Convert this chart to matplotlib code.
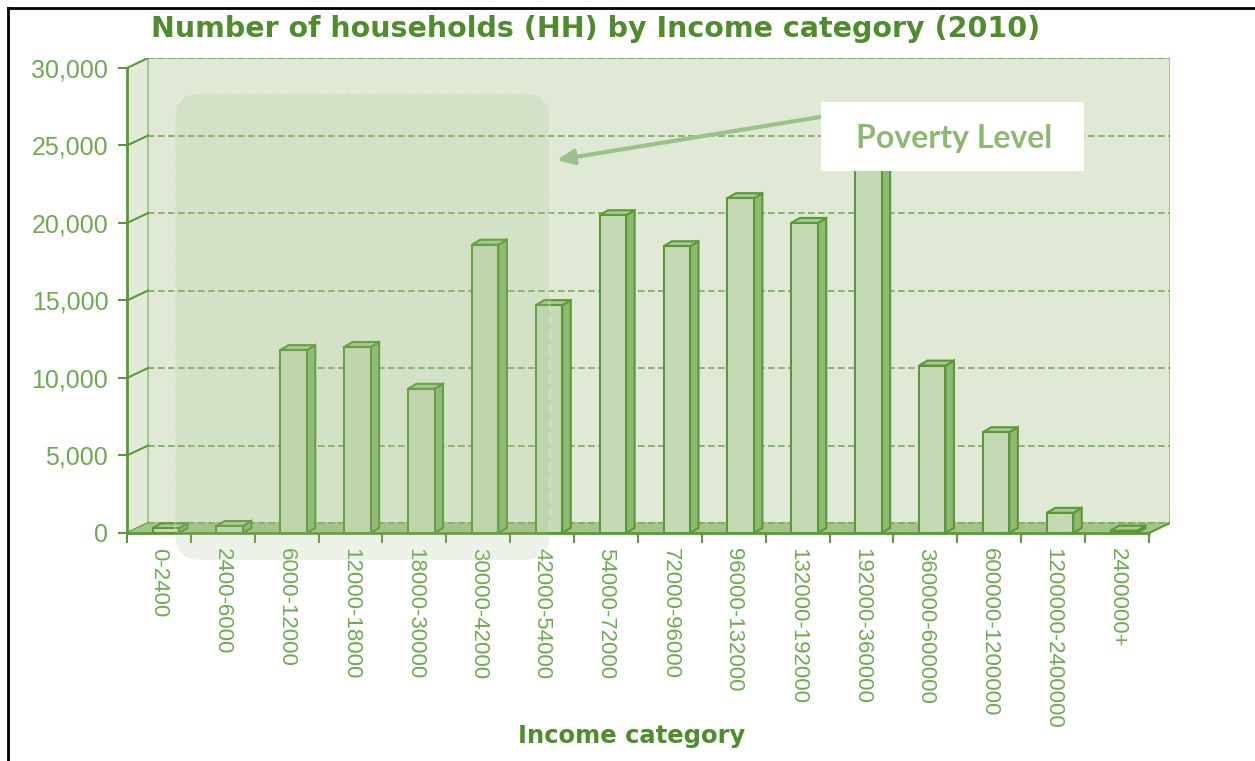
import matplotlib
matplotlib.use("Agg")
import matplotlib.pyplot as plt
from matplotlib.patches import Polygon, Rectangle, FancyBboxPatch
from matplotlib.lines import Line2D

# households per income bracket, 2010
categories = ["0-2400", "2400-6000", "6000-12000", "12000-18000", "18000-30000",
              "30000-42000", "42000-54000", "54000-72000", "72000-96000",
              "96000-132000", "132000-192000", "192000-360000", "360000-600000",
              "600000-1200000", "1200000-2400000", "2400000+"]
households = [300, 450, 11800, 12000, 9300, 18600, 14700, 20500, 18500,
              21600, 20000, 24000, 10800, 6500, 1300, 150]
y_ticks = [0, 5000, 10000, 15000, 20000, 25000, 30000]

TITLE = "#4e8c2c"
TEXT = "#6eaa50"
EDGE = "#5a9a36"
WALL = "#dfe9d5"
SIDEWALL = "#e2ebd9"
FLOOR = "#a3c48a"
GRID = "#7aab5a"
FRONT = "#c6d9b5"
SIDE = "#8fb874"
TOP = "#a9c98f"
ARROW = "#9dc289"

n = len(categories)
ymax = y_ticks[-1]
DX, DY = 0.33, 645        # depth of the chart box
BDX, BDY = 0.133, 323     # depth of each bar
BW = 0.415                # bar front width

fig = plt.figure(figsize=(12.55, 7.61), dpi=100)
ax = fig.add_axes([127 / 1255, 228 / 761, 1043 / 1255, 475 / 761])
ax.set_xlim(-0.5, n - 0.5 + DX)
ax.set_ylim(0, ymax + DY)
for s in ax.spines.values():
    s.set_visible(False)
ax.patch.set_visible(False)

# back wall, grid, side wall, floor
ax.add_patch(Rectangle((-0.5 + DX, DY), n, ymax, fc=WALL, ec="#a9c893", lw=1.5, zorder=0))
for v in y_ticks:
    ax.plot([-0.5 + DX, n - 0.5 + DX], [v + DY] * 2, ls=(0, (4, 2)), color=GRID, lw=1.2, zorder=1)
ax.add_patch(Polygon([(-0.5, 0), (-0.5 + DX, DY), (-0.5 + DX, ymax + DY), (-0.5, ymax)],
                     closed=True, fc=SIDEWALL, ec="none", zorder=1))
ax.plot([-0.5 + DX, -0.5 + DX], [DY, ymax + DY], color="#a9c893", lw=1.5, zorder=1)
for v in y_ticks:
    ax.plot([-0.5, -0.5 + DX], [v, v + DY], color=EDGE, lw=1.5, zorder=2)
ax.add_patch(Polygon([(-0.5, 0), (n - 0.5, 0), (n - 0.5 + DX, DY), (-0.5 + DX, DY)],
                     closed=True, fc=FLOOR, ec="none", zorder=2))
ax.plot([-0.5 + DX, n - 0.5 + DX], [DY, DY], ls=(0, (4, 2)), color="#7fae60", lw=1.2, zorder=2)
ax.plot([n - 0.5, n - 0.5 + DX], [0, DY], color=EDGE, lw=1.5, zorder=2)

# 3d bars
for i, v in enumerate(households):
    left = i - 0.1
    right = left + BW
    ax.add_patch(Polygon([(right, 0), (right + BDX, BDY), (right + BDX, v + BDY), (right, v)],
                         closed=True, fc=SIDE, ec=EDGE, lw=1.5, zorder=3))
    ax.add_patch(Polygon([(left, v), (right, v), (right + BDX, v + BDY), (left + BDX, v + BDY)],
                         closed=True, fc=TOP, ec=EDGE, lw=1.5, zorder=3))
    ax.add_patch(Rectangle((left, 0), BW, v, fc=FRONT, ec=EDGE, lw=1.5, zorder=4))

# front axis lines
ax.plot([-0.5, -0.5], [0, ymax], color=EDGE, lw=2, zorder=5, clip_on=False)
ax.plot([-0.5, n - 0.5], [0, 0], color=EDGE, lw=2, zorder=5, clip_on=False)

ax.set_yticks(y_ticks)
ax.set_yticklabels([f"{v:,}" for v in y_ticks])
ax.tick_params(axis="y", length=6.5, width=1.5, color=EDGE, pad=7,
               labelsize=18, labelcolor=TEXT)
for lab in ax.get_yticklabels():
    lab.set_family("Liberation Sans")

ax.set_xticks([i - 0.5 for i in range(n + 1)])
ax.set_xticklabels([])
ax.set_xticks(range(n), minor=True)
ax.set_xticklabels(categories, minor=True, rotation=270)
ax.tick_params(axis="x", which="major", length=7, width=1.5, color=EDGE)
ax.tick_params(axis="x", which="minor", length=0, pad=11, labelsize=16, labelcolor=TEXT)
for lab in ax.get_xticklabels(minor=True):
    lab.set_family("Liberation Sans")

# shaded poverty zone
ax.add_patch(FancyBboxPatch((0.25, -1742), 5.87, 30129,
                            boxstyle="round,pad=0,rounding_size=0.4", mutation_aspect=4122,
                            fc=(164 / 255, 191 / 255, 138 / 255, 0.19),
                            ec=(1, 1, 1, 0.2), lw=2, ls="--", clip_on=False, zorder=6))

ax.annotate("", xy=(6.23, 24065), xytext=(10.35, 26839),
            arrowprops=dict(arrowstyle="-|>,head_length=1.0,head_width=0.45", color=ARROW,
                            lw=3, shrinkA=0, shrinkB=0), zorder=7)
ax.add_patch(Rectangle((10.36, 23355), 4.13, 4451, fc="white", ec="none", zorder=8))
ax.text(12.45, 25450, "Poverty Level", ha="center", va="center", fontsize=23,
        fontweight="bold", color="#8db872", family="Lato", zorder=9)

fig.text(596 / 1255, 1 - 29 / 761, "Number of households (HH) by Income category (2010)",
         ha="center", va="center", fontsize=20.5, fontweight="bold", color=TITLE,
         family="DejaVu Sans")
fig.text(632 / 1255, 1 - 736 / 761, "Income category", ha="center", va="center",
         fontsize=17.5, fontweight="bold", color=TITLE, family="DejaVu Sans")

fig.add_artist(Line2D([8 / 1255, 8 / 1255], [0, 1 - 8 / 761], transform=fig.transFigure,
                      color="black", lw=2))
fig.add_artist(Line2D([8 / 1255, 1], [1 - 8 / 761, 1 - 8 / 761], transform=fig.transFigure,
                      color="black", lw=2))

fig.savefig("out.png", dpi=100)
